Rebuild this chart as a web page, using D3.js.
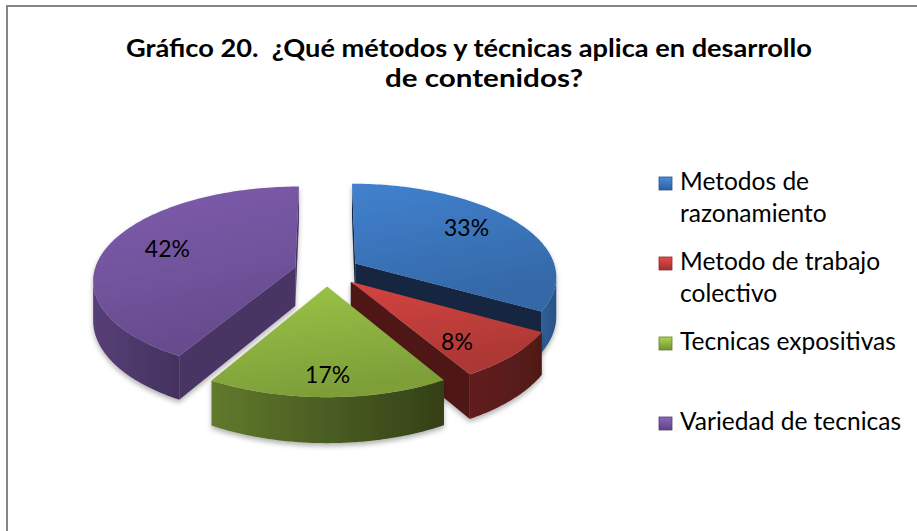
<!DOCTYPE html>
<html lang="es">
<head>
<meta charset="UTF-8" />
<title>Gráfico 20</title>
<script src="https://cdn.jsdelivr.net/npm/d3@7"></script>
<style>
body {
    margin: 0;
    background: #fff;
}
svg {
    display: block;
    font-family: Lato, "Open Sans", sans-serif;
}
</style>
</head>
<body>
<svg width="917" height="531"></svg>
<script>
const titleLines = ["Gráfico 20.  ¿Qué métodos y técnicas aplica en desarrollo", "de contenidos?"];
const categories = ["Metodos de razonamiento", "Metodo de trabajo colectivo", "Tecnicas expositivas", "Variedad de tecnicas"];
const legendLines = [["Metodos de", "razonamiento"], ["Metodo de trabajo", "colectivo"], ["Tecnicas expositivas"], ["Variedad de tecnicas"]];
const values = [33.3, 8.3, 16.7, 41.7];
const labels = ["33%", "8%", "17%", "42%"];
const colors = ["#3b76bd", "#c23e3b", "#8fb441", "#7455a0"];

// how much darker the side walls / cut faces are (wall left, wall right, cut face)
const shade = [[0.6, 1.0, 3.0], [1.9, 2.5, 2.5], [1.1, 2.9, 2.0], [0.85, 1.5, 1.35]];

const svg = d3.select("svg");
const defs = svg.append("defs");

// frame (runs off the right and bottom edge)
svg.append("rect")
    .attr("x", 7).attr("y", 6)
    .attr("width", 940).attr("height", 560)
    .attr("fill", "#fff")
    .attr("stroke", "#868686")
    .attr("stroke-width", 2);

// shrink/grow a text so it spans the given width
function fit(sel, w) {
    const cur = sel.node().getComputedTextLength();
    sel.attr("font-size", parseFloat(sel.attr("font-size")) * w / cur);
}

// title: calibri-like narrow bold, squeeze lato to the same width
const titleX = [469, 484], titleY = [57, 87], titleW = [686, 198];
titleLines.forEach((t, i) => {
    svg.append("text")
        .attr("x", titleX[i]).attr("y", titleY[i])
        .attr("text-anchor", "middle")
        .attr("font-weight", "bold")
        .attr("font-size", 25)
        .attr("textLength", titleW[i])
        .attr("lengthAdjust", "spacingAndGlyphs")
        .style("white-space", "pre")
        .attr("fill", "#000")
        .text(t);
});

// 3d pie
const cx = 327, cy = 271, rx = 201, ry = 92, persp = 0.13, depth = 39, explode = 0.164;
const camV = -1 / persp;

function proj(u, v, h) {
    const s = 1 / (1 + persp * v);
    return [cx + rx * u * s, cy - ry * v * s + depth * h * s];
}

const arcs = d3.pie().sort(null).startAngle(0).endAngle(2 * Math.PI)(values);
arcs.forEach((d, i) => {
    const m = (d.startAngle + d.endAngle) / 2;
    d.i = i;
    d.mid = m;
    d.ou = explode * Math.sin(m);
    d.ov = explode * Math.cos(m);
});

function pt(d, r, a, h) {
    return proj(d.ou + r * Math.sin(a), d.ov + r * Math.cos(a), h);
}
function rim(d, a0, a1, h) {
    const n = Math.max(2, Math.ceil((a1 - a0) / 0.02));
    return d3.range(n + 1).map(k => pt(d, 1, a0 + (a1 - a0) * k / n, h));
}
const line = d3.line();
const poly = p => line(p) + "Z";

// shadow
const sh = defs.append("filter").attr("id", "shadow")
    .attr("x", "-20%").attr("y", "-20%").attr("width", "140%").attr("height", "140%");
sh.append("feDropShadow")
    .attr("dx", 0).attr("dy", 3).attr("stdDeviation", 2.5)
    .attr("flood-color", "#000").attr("flood-opacity", 0.3);

// gradients
colors.forEach((c, i) => {
    const base = d3.color(c);
    const gt = defs.append("linearGradient").attr("id", "top" + i)
        .attr("x1", 0).attr("y1", 0).attr("x2", 0.3).attr("y2", 1);
    gt.append("stop").attr("offset", 0).attr("stop-color", base.brighter(0.25));
    gt.append("stop").attr("offset", 1).attr("stop-color", base.darker(0.35));
    const gw = defs.append("linearGradient").attr("id", "wall" + i)
        .attr("x1", 0).attr("y1", 0).attr("x2", 1).attr("y2", 0);
    gw.append("stop").attr("offset", 0).attr("stop-color", base.darker(shade[i][0]));
    gw.append("stop").attr("offset", 1).attr("stop-color", base.darker(shade[i][1]));
    const gl = defs.append("linearGradient").attr("id", "leg" + i)
        .attr("x1", 0).attr("y1", 0).attr("x2", 0).attr("y2", 1);
    gl.append("stop").attr("offset", 0).attr("stop-color", base.brighter(0.5));
    gl.append("stop").attr("offset", 1).attr("stop-color", base.darker(0.6));
});

const pieG = svg.append("g");
const order = [0, 3, 1, 2];

order.forEach(i => {
    const d = arcs[i];
    const g = pieG.append("g").attr("filter", "url(#shadow)");
    const a0 = d.startAngle, a1 = d.endAngle;
    const base = d3.color(colors[i]);

    // outer wall, only the part facing the viewer
    const n = Math.max(2, Math.ceil((a1 - a0) / 0.01));
    let run = [];
    const runs = [];
    for (let k = 0; k <= n; k++) {
        const a = a0 + (a1 - a0) * k / n;
        const pu = d.ou + Math.sin(a), pv = d.ov + Math.cos(a);
        const vis = Math.sin(a) * (0 - pu) + Math.cos(a) * (camV - pv) > 0;
        if (vis) run.push(a);
        else if (run.length) { runs.push(run); run = []; }
    }
    if (run.length) runs.push(run);
    runs.forEach(r => {
        const topP = r.map(a => pt(d, 1, a, 0));
        const botP = r.map(a => pt(d, 1, a, 1)).reverse();
        g.append("path").attr("d", poly(topP.concat(botP))).attr("fill", `url(#wall${i})`);
    });

    // radial cut faces
    const faces = [
        { a: a0, nu: -Math.cos(a0), nv: Math.sin(a0) },
        { a: a1, nu: Math.cos(a1), nv: -Math.sin(a1) }
    ];
    faces.forEach(f => {
        if (f.nu * (0 - d.ou) + f.nv * (camV - d.ov) <= 0) return;
        const p = [pt(d, 0, f.a, 0), pt(d, 1, f.a, 0), pt(d, 1, f.a, 1), pt(d, 0, f.a, 1)];
        g.append("path").attr("d", poly(p)).attr("fill", base.darker(shade[i][2]));
    });

    // top face
    const topFace = [pt(d, 0, a0, 0)].concat(rim(d, a0, a1, 0));
    g.append("path").attr("d", poly(topFace)).attr("fill", `url(#top${i})`);
});

// value labels, spread a little more than the top face
const labelG = svg.append("g");
arcs.forEach((d, i) => {
    const p = pt(d, 0.64, d.mid, 0);
    labelG.append("text")
        .attr("x", cx + (p[0] - cx) * 1.05).attr("y", cy + (p[1] - cy) * 1.25)
        .attr("text-anchor", "middle")
        .attr("dominant-baseline", "central")
        .attr("font-size", 24)
        .attr("fill", "#000")
        .text(labels[i]);
});
const first = labelG.select("text");
fit(first, 45);
labelG.selectAll("text").attr("font-size", first.attr("font-size"));

// legend
const legY = [190, 270, 350, 430];
const legend = svg.append("g");
categories.forEach((c, i) => {
    legend.append("rect")
        .attr("x", 659).attr("y", legY[i] - 13)
        .attr("width", 13).attr("height", 13)
        .attr("fill", `url(#leg${i})`)
        .attr("stroke", d3.color(colors[i]).darker(1))
        .attr("stroke-width", 0.8);
    legendLines[i].forEach((t, j) => {
        legend.append("text")
            .attr("class", "leg")
            .attr("x", 680).attr("y", legY[i] + j * 31.7)
            .attr("font-size", 22)
            .attr("fill", "#000")
            .text(t);
    });
});
const ref = legend.selectAll("text.leg").filter(function () { return this.textContent === "Tecnicas expositivas"; });
fit(ref, 216);
legend.selectAll("text.leg").attr("font-size", ref.attr("font-size"));
</script>
</body>
</html>
